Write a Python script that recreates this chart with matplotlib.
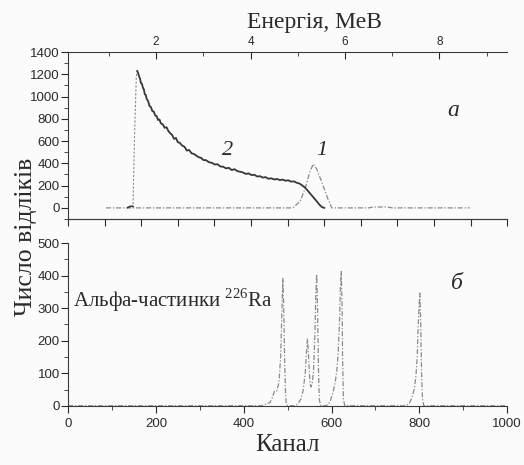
import matplotlib
matplotlib.use('Agg')
import matplotlib.pyplot as plt
import numpy as np
from matplotlib.ticker import MultipleLocator, NullFormatter

plt.rcParams['font.family'] = ['Liberation Sans', 'DejaVu Sans']
plt.rcParams['mathtext.fontset'] = 'custom'
plt.rcParams['mathtext.rm'] = 'Liberation Serif'

# panel a: energy (MeV) vs counts
curve2_e = [1.40, 1.44, 1.48, 1.51, 1.54, 1.58,
            1.60, 1.62, 1.64, 1.66, 1.68, 1.70, 1.72, 1.74, 1.76, 1.78, 1.80, 1.83,
            1.86, 1.89, 1.92, 1.95, 1.98, 2.01, 2.04, 2.07, 2.10, 2.14, 2.18, 2.22,
            2.26, 2.30, 2.34, 2.38, 2.42, 2.46, 2.50, 2.55, 2.60, 2.65, 2.70, 2.75,
            2.80, 2.85, 2.90, 2.95, 3.00, 3.06, 3.12, 3.18, 3.24, 3.30, 3.36, 3.42,
            3.48, 3.54, 3.60, 3.66, 3.72, 3.78, 3.84, 3.90, 3.96, 4.02, 4.08, 4.14,
            4.20, 4.26, 4.32, 4.38, 4.44, 4.50, 4.56, 4.62, 4.68, 4.74, 4.80, 4.86,
            4.92, 4.98, 5.04, 5.10, 5.16, 5.22, 5.28, 5.34, 5.40, 5.46, 5.51, 5.56]
curve2_n = [3, 12, 15, 12, 600, 1180,
            1230, 1210, 1180, 1160, 1120, 1115, 1080, 1065, 1020, 1015, 980, 960,
            915, 905, 870, 865, 830, 825, 790, 795, 760, 750, 720, 725,
            690, 670, 655, 620, 628, 590, 585, 560, 550, 515, 520, 490,
            485, 470, 455, 450, 430, 428, 410, 405, 390, 392, 372, 370,
            355, 360, 340, 348, 330, 325, 318, 305, 310, 295, 298, 282,
            285, 272, 276, 262, 266, 255, 260, 250, 254, 244, 248, 236,
            238, 225, 218, 200, 180, 150, 120, 90, 60, 28, 8, 0]

curve1_e = [0.94, 4.85, 4.91, 5.05, 5.16, 5.26, 5.33, 5.40, 5.51, 5.62, 5.72,
            6.50, 6.60, 6.90, 7.00, 8.64]
curve1_n = [0, 0, 5, 60, 180, 330, 395, 350, 230, 100, 0,
            0, 8, 8, 0, 0]

# panel b: alpha particles of Ra-226, channel vs counts
chan = [0, 440, 450, 460, 465, 470, 475, 480, 484, 487, 489, 491, 493, 495, 497, 500,
        515, 520, 525, 530, 535, 540, 543, 545, 547, 549, 551, 553, 556, 559, 562,
        564, 566, 568, 570, 572, 575,
        585, 592, 597, 603, 608, 612, 615, 618, 620, 622, 624, 625, 627, 630,
        765, 773, 778, 783, 788, 792, 795, 797, 799, 801, 803, 805, 807, 810, 1000]
counts = [0, 0, 5, 10, 25, 45, 45, 70, 150, 300, 392, 300, 150, 40, 5, 0,
          0, 3, 10, 20, 45, 100, 170, 205, 170, 110, 70, 58, 70, 110, 220,
          340, 405, 300, 120, 20, 0,
          0, 3, 15, 40, 70, 110, 160, 260, 360, 413, 300, 150, 20, 0,
          0, 3, 10, 25, 50, 90, 150, 240, 300, 346, 250, 100, 20, 0, 0]

txt = '#2a2a2a'
dark = '#3a3a3a'
light = '#8a8a8a'
serif = 'Liberation Serif'

fig = plt.figure(figsize=(5.24, 4.65), dpi=100, facecolor='#fbfbfb')

# ---- panel a ----
ax1 = fig.add_axes([0.130, 0.529, 0.838, 0.359])
ax1.set_facecolor('#fbfbfb')
e_lo, e_hi = 0.136, 9.436
ax1.plot(curve1_e, curve1_n, color=light, lw=0.9, dashes=(4, 1.5, 1, 1.5))
ax1.plot(curve2_e, curve2_n, color=light, lw=0.8, dashes=(2, 1.5))
pk = int(np.argmax(curve2_n))
ax1.plot(curve2_e[:4], curve2_n[:4], color=dark, lw=1.2)
ax1.plot(curve2_e[pk:], curve2_n[pk:], color=dark, lw=1.3)
ax1.set_xlim(e_lo, e_hi)
ax1.set_ylim(-100, 1400)
ax1.xaxis.tick_top()
ax1.set_xticks([2, 4, 6, 8])
ax1.xaxis.set_minor_locator(MultipleLocator(1))
ax1.tick_params(axis='x', which='both', direction='in', colors=txt, labelsize=8.5, pad=3)
ax1.tick_params(axis='x', which='major', length=5)
ax1.tick_params(axis='x', which='minor', length=3)
ax1.set_yticks(range(0, 1401, 200))
ax1.yaxis.set_minor_locator(MultipleLocator(100))
ax1.tick_params(axis='y', which='both', direction='out', colors=txt, labelsize=9.5, pad=1)
ax1.tick_params(axis='y', which='major', length=5)
ax1.tick_params(axis='y', which='minor', length=3)
ax1.spines['right'].set_visible(False)
for s in ['left', 'top', 'bottom']:
    ax1.spines[s].set_color(dark)
ax1.text(0.56, 1.18, 'Енергія, МеВ', transform=ax1.transAxes, fontfamily=serif,
         fontsize=17, color=txt, ha='center', va='center')

sec = ax1.secondary_xaxis('bottom', functions=(
    lambda e: (e - e_lo) / (e_hi - e_lo) * 1200,
    lambda c: c / 1200 * (e_hi - e_lo) + e_lo))
sec.xaxis.set_major_locator(MultipleLocator(100))
sec.xaxis.set_major_formatter(NullFormatter())
sec.tick_params(direction='out', length=5, colors=txt)
sec.spines['bottom'].set_color(dark)

ax1.text(0.878, 0.65, 'a', transform=ax1.transAxes, fontfamily=serif,
         fontstyle='italic', fontsize=17, color=txt, ha='center', va='center')
ax1.text(0.362, 0.41, '2', transform=ax1.transAxes, fontfamily=serif,
         fontstyle='italic', fontsize=16, color=txt, ha='center', va='center')
ax1.text(0.578, 0.41, '1', transform=ax1.transAxes, fontfamily=serif,
         fontstyle='italic', fontsize=16, color=txt, ha='center', va='center')

# ---- panel b ----
ax2 = fig.add_axes([0.130, 0.126, 0.838, 0.351])
ax2.set_facecolor('none')
ax2.plot(chan, counts, color=light, lw=0.9, dashes=(4, 1.5, 1, 1.5))
ax2.set_xlim(0, 1000)
ax2.set_ylim(-2, 500)
ax2.set_xticks(range(0, 1001, 200))
ax2.xaxis.set_minor_locator(MultipleLocator(100))
ax2.set_yticks(range(0, 501, 100))
ax2.yaxis.set_minor_locator(MultipleLocator(50))
ax2.tick_params(which='both', direction='out', colors=txt, labelsize=9.5)
ax2.tick_params(axis='y', pad=1)
ax2.tick_params(which='major', length=5)
ax2.tick_params(which='minor', length=3)
ax2.spines['top'].set_visible(False)
ax2.spines['right'].set_visible(False)
for s in ['left', 'bottom']:
    ax2.spines[s].set_color(dark)
ax2.set_xlabel('Канал', fontfamily=serif, fontsize=18, color=txt, labelpad=3)

ax2.text(0.01, 0.65, r'Альфа-частинки $^{226}$Ra', transform=ax2.transAxes,
         fontfamily=serif, fontsize=15, color=txt, ha='left', va='center')
ax2.text(0.885, 0.75, 'б', transform=ax2.transAxes, fontfamily=serif,
         fontstyle='italic', fontsize=17, color=txt, ha='center', va='center')

fig.text(0.05, 0.49, 'Число відліків', rotation=90, fontfamily=serif,
         fontsize=18.5, color=txt, ha='center', va='center')

fig.savefig('out.png', dpi=100, facecolor=fig.get_facecolor())
